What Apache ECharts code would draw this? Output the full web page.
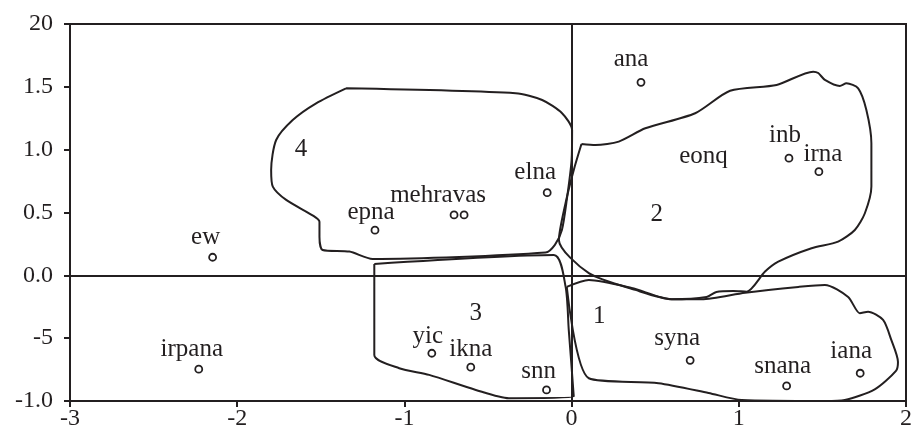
<!DOCTYPE html>
<html>
<head>
<meta charset="utf-8">
<script src="https://cdn.jsdelivr.net/npm/echarts@6/dist/echarts.min.js"></script>
<style>
html,body{margin:0;padding:0;background:#fff;}
#chart{width:915px;height:431px;}
</style>
</head>
<body>
<div id="chart"></div>
<script>
// ---- data ----
const yTickLabels = ['-1.0', '-5', '0.0', '0.5', '1.0', '1.5', '20']; // from -1.0 up to 2.0
const xTickLabels = ['-3', '-2', '-1', '0', '1', '2'];

const pointNames = ['ew', 'irpana', 'epna', 'mehravas', '', 'elna', 'ana', 'inb', 'irna', 'yic', 'ikna', 'snn', 'syna', 'snana', 'iana'];
const pointX = [-2.147, -2.230, -1.176, -0.703, -0.643, -0.146, 0.415, 1.300, 1.479, -0.836, -0.603, -0.150, 0.709, 1.286, 1.726];
const pointY = [0.144, -0.747, 0.359, 0.481, 0.481, 0.658, 1.536, 0.932, 0.825, -0.620, -0.731, -0.912, -0.676, -0.880, -0.779];

const textNames = ['1', '2', '3', '4', 'eonq'];
const textX = [0.166, 0.510, -0.573, -1.618, 0.789];
const textY = [-0.328, 0.486, -0.307, 1.000, 0.944];

const cluster1 = [[-0.029,-0.092],[0.103,-0.037],[0.359,-0.100],[0.598,-0.190],[0.777,-0.190],[1.038,-0.138],[1.356,-0.092],[1.515,-0.076],[1.654,-0.172],[1.724,-0.302],[1.773,-0.289],[1.863,-0.355],[1.912,-0.514],[1.952,-0.689],[1.940,-0.760],[1.813,-0.907],[1.634,-0.992],[1.515,-1.000],[1.017,-0.992],[0.819,-0.936],[0.520,-0.858],[0.103,-0.819]];
const cluster2 = [[0.059,1.045],[0.143,1.037],[0.282,1.064],[0.441,1.170],[0.739,1.290],[0.948,1.469],[1.226,1.515],[1.445,1.621],[1.475,1.610],[1.515,1.555],[1.604,1.507],[1.644,1.528],[1.714,1.488],[1.763,1.316],[1.793,1.051],[1.793,0.706],[1.754,0.494],[1.694,0.361],[1.594,0.268],[1.435,0.216],[1.236,0.109],[1.157,0.030],[1.047,-0.130],[0.968,-0.124],[0.866,-0.132],[0.807,-0.172],[0.600,-0.190],[0.381,-0.116],[0.103,0.017],[-0.076,0.282],[-0.036,0.576],[0.013,0.839]];
const cluster3 = [[-1.180,0.091],[-0.106,0.162],[-0.036,-0.090],[-0.017,-0.434],[0.013,-0.965],[-0.375,-0.978],[-0.573,-0.912],[-0.852,-0.792],[-1.031,-0.739],[-1.180,-0.633]];
const cluster4 = [[-1.349,1.488],[-0.335,1.449],[-0.176,1.395],[-0.057,1.290],[0.003,1.157],[0.000,0.918],[-0.029,0.600],[-0.058,0.361],[-0.100,0.242],[-0.156,0.181],[-1.190,0.130],[-1.329,0.189],[-1.489,0.202],[-1.508,0.308],[-1.508,0.427],[-1.544,0.473],[-1.707,0.600],[-1.787,0.706],[-1.797,0.839],[-1.767,1.077],[-1.668,1.236],[-1.528,1.369]];

// ---- style ----
const INK = '#231f20';
const FONT = 'Liberation Serif';
const labelShift = {
  ew: [-7, 0], irpana: [-7, 0], epna: [-4, 2], mehravas: [-16, 0], elna: [-12, 0],
  ana: [-10, -3], inb: [-4, -3], irna: [4, 3], yic: [-4, 3], ikna: [0, 2], snn: [-8, 1],
  syna: [-13, -2], snana: [-4, 0], iana: [-9, -2]
};

function closed(pts) { return pts.concat([pts[0]]); }
function outline(pts) {
  return {
    type: 'line', data: closed(pts), symbol: 'none', smooth: 0.25,
    lineStyle: { color: INK, width: 2 }, silent: true, z: 3, clip: false
  };
}

const pointData = pointX.map((x, i) => {
  const name = pointNames[i];
  const sh = labelShift[name] || [0, 0];
  return {
    value: [x, pointY[i]], name: name,
    label: { show: name !== '', formatter: name, position: 'top', distance: 3, offset: sh }
  };
});
const textData = textX.map((x, i) => ({ value: [x, textY[i]], name: textNames[i] }));

const chart = echarts.init(document.getElementById('chart'), null, { renderer: 'canvas' });
chart.setOption({
  animation: false,
  backgroundColor: '#fff',
  grid: { left: 70, right: 7, top: 24, bottom: 30, show: true, borderColor: INK, borderWidth: 2, backgroundColor: 'transparent' },
  xAxis: {
    type: 'value', min: -3, max: 2, interval: 1,
    axisLine: { onZero: false, lineStyle: { color: INK, width: 2 } },
    axisTick: { inside: false, length: 6, lineStyle: { color: INK, width: 2 } },
    splitLine: { show: false },
    axisLabel: { color: INK, fontFamily: FONT, fontSize: 24, margin: 6,
      formatter: v => xTickLabels[Math.round(v + 3)] }
  },
  yAxis: {
    type: 'value', min: -1, max: 2, interval: 0.5,
    axisLine: { onZero: false, lineStyle: { color: INK, width: 2 } },
    axisTick: { inside: false, length: 6, lineStyle: { color: INK, width: 2 } },
    splitLine: { show: false },
    axisLabel: { color: INK, fontFamily: FONT, fontSize: 24, margin: 17,
      formatter: v => yTickLabels[Math.round((v + 1) / 0.5)] }
  },
  series: [
    {
      type: 'line', data: [], silent: true,
      markLine: {
        silent: true, symbol: 'none', label: { show: false },
        lineStyle: { color: INK, width: 2, type: 'solid' },
        data: [{ yAxis: 0 }, { xAxis: 0 }]
      }
    },
    outline(cluster1), outline(cluster2), outline(cluster3), outline(cluster4),
    {
      type: 'scatter', data: pointData, symbol: 'circle', symbolSize: 7, z: 5,
      itemStyle: { color: '#fff', borderColor: INK, borderWidth: 1.8, opacity: 1 },
      label: { color: INK, fontFamily: FONT, fontSize: 25 }
    },
    {
      type: 'scatter', data: textData, symbolSize: 0, z: 5,
      itemStyle: { opacity: 1, color: INK },
      label: { show: true, position: 'inside', formatter: p => p.name, color: INK, fontFamily: FONT, fontSize: 25, opacity: 1 }
    }
  ]
});
</script>
</body>
</html>
